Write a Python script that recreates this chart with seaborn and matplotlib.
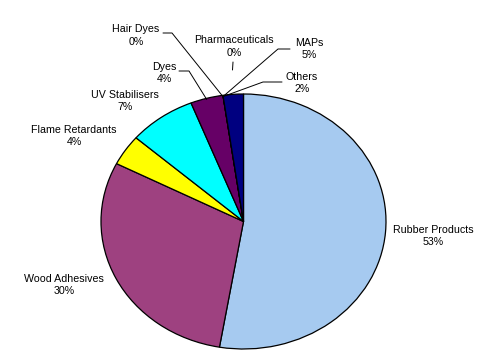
import matplotlib
matplotlib.use("Agg")
import matplotlib.pyplot as plt
import seaborn as sns
import numpy as np

categories = ["Rubber Products", "Wood Adhesives", "Flame Retardants", "UV Stabilisers",
              "Dyes", "Hair Dyes", "Pharmaceuticals", "MAPs", "Others"]
values = [52.7, 29.8, 3.9, 7.6, 3.7, 0.0, 0.0, 0.0, 2.3]
pct_labels = ["53%", "30%", "4%", "7%", "4%", "0%", "0%", "5%", "2%"]
colors = ["#A6CAF0", "#9E4180", "#FFFF00", "#00FFFF", "#660066",
          "#FF8080", "#0066CC", "#CCCCFF", "#000080"]

sns.set_style("white")
plt.rcParams['font.family'] = ['Liberation Sans', 'DejaVu Sans']

W, H = 496, 363
fig = plt.figure(figsize=(W / 100, H / 100), dpi=100)
ax = fig.add_axes([0, 0, 1, 1])

CX, CY, RX, RY = 243.5, 221.5, 142.5, 127.5
def dx(p): return (p - CX) / RX
def dy(p): return (CY - p) / RY

wedges, _ = ax.pie(values, colors=colors, startangle=90, counterclock=False,
                   wedgeprops=dict(edgecolor="black", linewidth=0.9))
ax.set_aspect("auto")
ax.set_xlim(dx(0), dx(W))
ax.set_ylim(dy(H), dy(0))
ax.axis("off")

# anchor points on the pie edge (mid angle of each wedge)
total = sum(values)
cum = np.cumsum([0] + values) / total
mid = (cum[:-1] + cum[1:]) / 2
anchors = [(np.sin(2 * np.pi * m), np.cos(2 * np.pi * m)) for m in mid]

# label centres in pixel layout
label_pos = {
    "Rubber Products": (433, 236),
    "Wood Adhesives": (64, 285),
    "Flame Retardants": (74, 136),
    "UV Stabilisers": (125, 101),
    "Dyes": (164, 73),
    "Hair Dyes": (136, 35.5),
    "Pharmaceuticals": (234, 46.5),
    "MAPs": (309, 49),
    "Others": (302, 83),
}
for cat, pct in zip(categories, pct_labels):
    x, y = label_pos[cat]
    ax.text(dx(x), dy(y), f"{cat}\n{pct}", ha="center", va="center",
            fontsize=7.7, linespacing=1.3, color="black")

# leader lines: (horizontal start, elbow) in pixels, end at wedge anchor
leaders = {
    "Dyes": ((179, 71), (189, 71)),
    "Hair Dyes": ((163, 33), (172, 33)),
    "MAPs": ((290, 49), (278, 49)),
    "Others": ((282, 82), (263, 82)),
}
for cat, (p0, p1) in leaders.items():
    i = categories.index(cat)
    ax_, ay_ = anchors[i]
    if cat != "Dyes":
        ax_, ay_ = np.sin(2 * np.pi * cum[categories.index("Others")]), np.cos(2 * np.pi * cum[categories.index("Others")])
    ax.plot([dx(p0[0]), dx(p1[0]), ax_], [dy(p0[1]), dy(p1[1]), ay_ * 0.99],
            color="black", linewidth=0.7, clip_on=False)
# Pharmaceuticals short tick
ax.plot([dx(233), dx(232.5)], [dy(62), dy(70)], color="black", linewidth=0.7)

fig.savefig("out.png", dpi=100, facecolor="white")
